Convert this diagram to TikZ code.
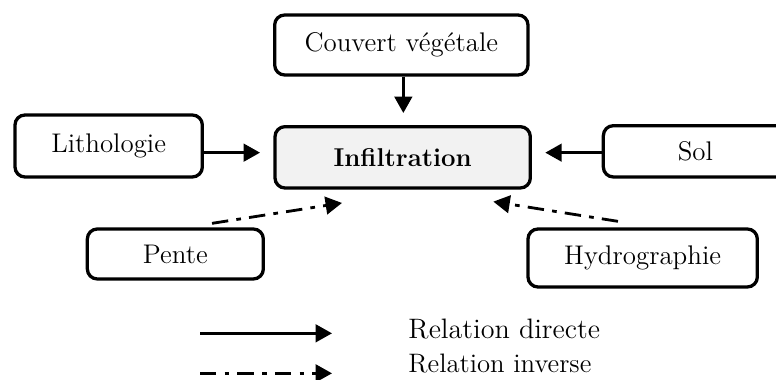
\documentclass[tikz,border=0pt]{standalone}
\usepackage{tikz}
\usetikzlibrary{arrows.meta,positioning,calc}

\begin{document}
\begin{tikzpicture}[x=1cm,y=1cm,>={Triangle[length=7pt,width=7.5pt]},
 factor/.style={draw,rounded corners=.15cm,line width=1.4pt,align=center,inner sep=2pt,font=\fontsize{11.5}{13}\selectfont},
 main/.style={factor,fill=black!5,font=\fontsize{11}{13}\selectfont\bfseries},
 direct/.style={->,line width=1.2pt},
 inverse/.style={->,line width=1.2pt,dash pattern=on 7pt off 3.5pt on 2pt off 3.5pt},
 legend/.style={anchor=west,inner sep=0pt}]
\clip (0,0) rectangle (11.64,-5.7);
\node[main,minimum width=3.83cm,minimum height=.92cm] (infil) at (6.04,-2.36) {Infiltration};
\node[factor,minimum width=3.80cm,minimum height=.90cm] (couvert) at (6.02,-.675) {Couvert végétale};
\node[factor,minimum width=2.81cm,minimum height=.93cm] (litho) at (1.63,-2.19) {Lithologie};
\node[factor,minimum width=2.76cm,minimum height=.77cm] (sol) at (10.43,-2.27) {Sol};
\node[factor,minimum width=2.64cm,minimum height=.75cm] (pente) at (2.63,-3.81) {Pente};
\node[factor,minimum width=3.44cm,minimum height=.87cm] (hydro) at (9.64,-3.87) {Hydrographie};

\draw[direct,shorten >=.18cm] ([xshift=.03cm]couvert.south)--([xshift=.03cm]couvert.south|-infil.north);
\draw[direct,shorten >=.2cm] ([yshift=-.1cm]litho.east)--([yshift=-.1cm]litho.east-|infil.west);
\draw[direct,shorten >=.2cm] ([yshift=-.02cm]sol.west)--([yshift=-.02cm]sol.west-|infil.east);
\draw[inverse] ([xshift=.55cm,yshift=.06cm]pente.north)--([xshift=-.91cm,yshift=-.2cm]infil.south);
\draw[inverse] ([xshift=-.37cm,yshift=.09cm]hydro.north)--([xshift=1.36cm,yshift=-.18cm]infil.south);

% legend
\coordinate (d0) at (3.0,-5.0);
\coordinate (d1) at (4.98,-5.0);
\coordinate (i0) at (3.0,-5.6);
\coordinate (i1) at (4.98,-5.6);
\draw[direct] (d0)--(d1);
\draw[inverse] (i0)--(i1);
\node[legend,font=\fontsize{12}{14}\selectfont] (ldirect) at (6.12,-4.94) {Relation directe};
\node[legend,font=\fontsize{11.4}{13}\selectfont] (linverse) at (6.12,-5.46) {Relation inverse};
\end{tikzpicture}
\end{document}
